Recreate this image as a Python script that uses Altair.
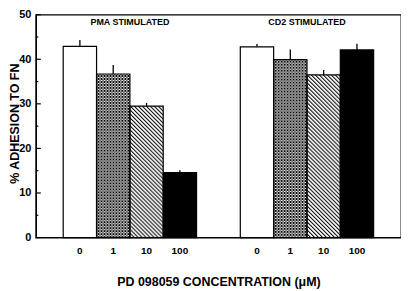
import urllib.parse
import altair as alt
import pandas as pd

# ---- data ----
groups = ["PMA", "CD2"]
group_titles = ["PMA STIMULATED", "CD2 STIMULATED"]
concs = ["0", "1", "10", "100"]
pma_vals = [42.9, 36.7, 29.5, 14.6]
pma_err = [44.3, 38.7, 30.2, 15.1]
cd2_vals = [42.8, 39.9, 36.5, 42.1]
cd2_err = [43.4, 42.2, 37.6, 43.5]
patterns = ["open", "cross", "diag", "solid"]
major_ticks = [0, 10, 20, 30, 40, 50]
minor_ticks = [5, 15, 25, 35, 45]

W, H = 367, 224
YMAX = 50

rows = []
for g, vals, errs in [("PMA", pma_vals, pma_err), ("CD2", cd2_vals, cd2_err)]:
    for c, v, e, p in zip(concs, vals, errs, patterns):
        rows.append({"grp": g, "conc": c, "val": v, "err": e, "pat": p})
df = pd.DataFrame(rows)
titles_df = pd.DataFrame({"grp": groups, "label": group_titles})
major_df = pd.DataFrame({"t": major_ticks})
minor_df = pd.DataFrame({"t": minor_ticks})

FONT = "Liberation Sans"


def pattern_uri(period, cells):
    """Tiled pixel pattern as an SVG data URI (fills whatever box it is drawn in)."""
    rects = "".join(
        f"<rect x='{i}' y='{j}' width='1' height='1' fill='{col}'/>"
        for (i, j, col) in cells)
    svg = ("<svg xmlns='http://www.w3.org/2000/svg' width='100%' height='100%'>"
           f"<defs><pattern id='p' width='{period}' height='{period}' patternUnits='userSpaceOnUse' "
           f"shape-rendering='crispEdges'><rect width='{period}' height='{period}' fill='white'/>{rects}</pattern></defs>"
           "<rect width='100%' height='100%' fill='url(#p)'/></svg>")
    return "data:image/svg+xml;charset=utf-8," + urllib.parse.quote(svg)


cross_cells = [(i, j, "black") for i in range(3) for j in range(3)
               if (i - j) % 3 == 0 or (i + j) % 3 == 0]
diag_cells = ([(i, j, "black") for i in range(4) for j in range(4) if (i - j) % 4 == 0] +
              [(i, j, "#8a8a8a") for i in range(4) for j in range(4) if (i - j) % 4 == 1])
CROSS_URI = pattern_uri(3, cross_cells)
DIAG_URI = pattern_uri(4, diag_cells)

x_enc = alt.X("grp:N", sort=groups,
              scale=alt.Scale(paddingInner=0.247, paddingOuter=0.1545),
              axis=alt.Axis(labels=False, ticks=False, domain=False,
                            title="PD 098059 CONCENTRATION (μM)",
                            titleFont=FONT, titleFontSize=12.5, titleFontWeight="bold",
                            titleColor="black", titleY=44, titleBaseline="middle"))
xo_enc = alt.XOffset("conc:N", sort=concs, scale=alt.Scale(paddingInner=0, paddingOuter=0))
y_enc = alt.Y("val:Q", scale=alt.Scale(domain=[0, YMAX], nice=False),
              axis=alt.Axis(values=major_ticks, ticks=False, grid=False,
                            domainColor="black", domainWidth=1.3,
                            labelFont=FONT, labelFontSize=11, labelFontWeight="bold",
                            labelColor="black", labelPadding=5,
                            title="% ADHESION TO FN", titleFont=FONT,
                            titleFontSize=12.5, titleFontWeight="bold", titleColor="black",
                            titleX=-21, titleY=109, titleBaseline="middle"))

base = alt.Chart(df)

bars = base.mark_bar(strokeWidth=0).encode(
    x=x_enc, xOffset=xo_enc, y=y_enc,
    fill=alt.Fill("pat:N", scale=alt.Scale(domain=patterns,
                                            range=["white", "white", "white", "black"]),
                  legend=None),
)

cross_img = base.transform_filter(alt.datum.pat == "cross").mark_image(aspect=False).encode(
    x=x_enc, xOffset=xo_enc, y=y_enc, y2=alt.datum(0), url=alt.value(CROSS_URI))
diag_img = base.transform_filter(alt.datum.pat == "diag").mark_image(aspect=False).encode(
    x=x_enc, xOffset=xo_enc, y=y_enc, y2=alt.datum(0), url=alt.value(DIAG_URI))

outline = base.mark_bar(fillOpacity=0, stroke="black", strokeWidth=1.2).encode(
    x=x_enc, xOffset=xo_enc, y=y_enc)

errbars = base.mark_rule(color="black", strokeWidth=1.3).encode(
    x=x_enc, xOffset=xo_enc, y=y_enc, y2="err:Q")

conc_labels = base.mark_text(font=FONT, fontSize=10, fontWeight="bold",
                             color="black", baseline="middle").encode(
    x=x_enc, xOffset=xo_enc, y=alt.value(237.5), text="conc:N")

grp_labels = alt.Chart(titles_df).mark_text(font=FONT, fontSize=9, fontWeight="bold",
                                            color="black", baseline="middle").encode(
    x=x_enc, y=alt.value(7.5), text="label:N")

maj = alt.Chart(major_df).mark_rule(color="black", strokeWidth=1.2).encode(
    y=alt.Y("t:Q"), x=alt.value(0), x2=alt.value(5))
mino = alt.Chart(minor_df).mark_rule(color="black", strokeWidth=1.2).encode(
    y=alt.Y("t:Q"), x=alt.value(0), x2=alt.value(2.5))

chart = alt.layer(bars, cross_img, diag_img, outline, errbars, conc_labels,
                  grp_labels, maj, mino).properties(
    width=W, height=H,
    autosize=alt.AutoSizeParams(type="none"),
    padding={"left": 28, "top": 6, "right": 0, "bottom": 56},
    background="white",
).configure_view(stroke="black", strokeWidth=1.3)

chart.save("out.html", embed_options={"renderer": "svg", "actions": False})
